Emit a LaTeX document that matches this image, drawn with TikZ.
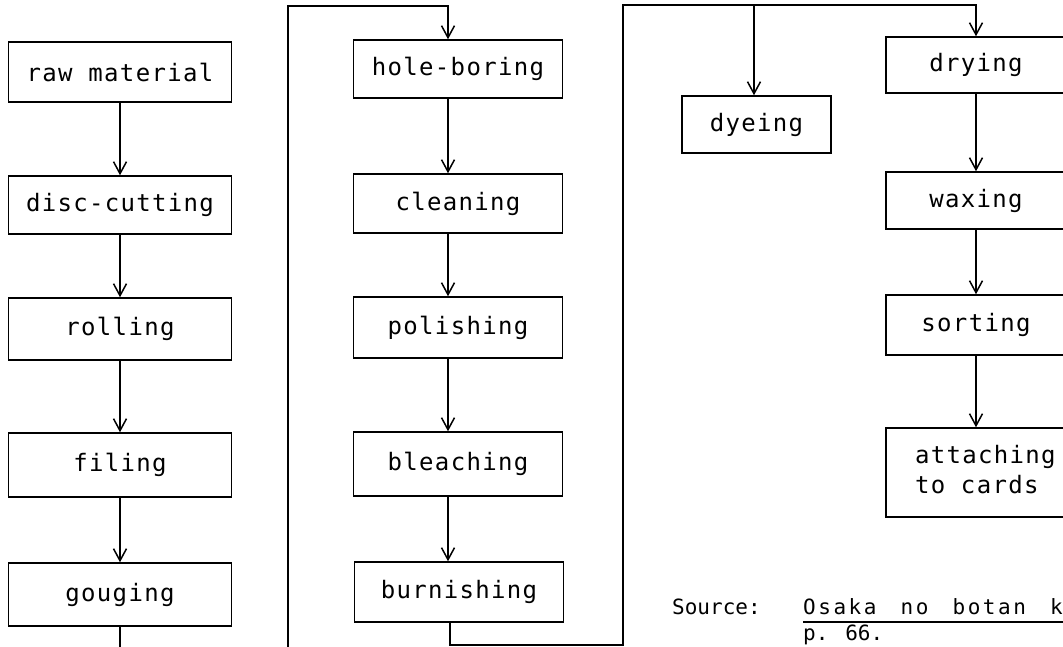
\documentclass[tikz,border=0pt]{standalone}
\usepackage{fontspec}
\newfontfamily\tw[LetterSpace=5.5]{DejaVu Sans Mono}
\newfontfamily\twsrc{DejaVu Sans Mono}
\newfontfamily\twtitle[LetterSpace=12]{DejaVu Sans Mono}
\usetikzlibrary{arrows.meta,calc}
\begin{document}
\begin{tikzpicture}[x=1pt,y=-1pt,
  stage/.style={draw, line width=1.5pt, inner sep=0pt,
    font=\fontsize{24}{30}\selectfont\tw},
  colA/.style={stage, minimum width=223},
  colB/.style={stage, minimum width=209},
  colC/.style={stage, minimum width=180},
  wire/.style={line width=1.5pt},
  flow/.style={wire, -{Straight Barb[length=12pt,width=13pt,line width=1.5pt]}},
  note/.style={font=\fontsize{21}{26}\selectfont\twsrc, inner sep=0pt}]
\useasboundingbox (0,0) rectangle (1063,647);
\clip (0,0) rectangle (1063,647);

% arrow columns
\coordinate (a1) at (120,0);
\coordinate (a2) at (448,0);
\coordinate (a2b) at (450,0);
\coordinate (a3) at (976,0);
\coordinate (a4) at (754,0);

% first column: shaping the blank
\node[colA, minimum height=60] (raw)   at (120,72)    {raw material};
\node[colA, minimum height=58] (disc)  at (120,205)   {disc-cutting};
\node[colA, minimum height=62] (roll)  at (120,329)   {rolling};
\node[colA, minimum height=64] (file)  at (120,465)   {filing};
\node[colA, minimum height=63] (gouge) at (120,594.5) {gouging};

% second column: boring and finishing
\node[colB, minimum height=58] (hole)   at (458,69)    {hole-boring};
\node[colB, minimum height=59] (clean)  at (458,203.5) {cleaning};
\node[colB, minimum height=61] (polish) at (458,327.5) {polishing};
\node[colB, minimum height=64] (bleach) at (458,464)   {bleaching};
\node[colB, minimum height=60] (burn)   at (459,592)   {burnishing};

% third column: colouring and packing
\node[stage, minimum width=149, minimum height=57] (dye) at (756.5,124.5) {dyeing};
\node[colC, minimum height=56] (dry)  at (976,65)    {drying};
\node[colC, minimum height=57] (wax)  at (976,200.5) {waxing};
\node[colC, minimum height=60] (sort) at (976,325)   {sorting};
\node[colC, minimum height=89] (att)  at (976,472.5) {};
\node[stage, draw=none, align=left, anchor=west] (attt) at ($(att.west)+(29,-3)$)
  {attaching\\to cards};

% straight runs
\draw[flow] (raw.south)  -- (disc.north);
\draw[flow] (disc.south) -- (roll.north);
\draw[flow] (roll.south) -- (file.north);
\draw[flow] (file.south) -- (gouge.north);

\draw[flow] (hole.south -| a2)   -- (clean.north -| a2);
\draw[flow] (clean.south -| a2)  -- (polish.north -| a2);
\draw[flow] (polish.south -| a2) -- (bleach.north -| a2);
\draw[flow] (bleach.south -| a2) -- (burn.north -| a2);

\draw[flow] (dry.south)  -- (wax.north);
\draw[flow] (wax.south)  -- (sort.north);
\draw[flow] (sort.south) -- (att.north);

% return lines between columns
\coordinate (l1) at (288,6);
\coordinate (b1) at (288,680);
\draw[flow] (gouge.south) |- (b1) -- (l1) -| (hole.north -| a2);

\coordinate (l2) at (623,5);
\coordinate (b2) at (623,645);
\draw[flow] (burn.south -| a2b) |- (b2) -- (l2) -| (dry.north);
\draw[flow] (l2 -| a4) -- (dye.north -| a4);

% source
\node[note, anchor=base west] (srclab) at (672,614) {Source:};
\node[note, anchor=base west, font=\fontsize{21}{26}\selectfont\twtitle] (srcref) at (803,614)
  {Osaka\hspace{9pt} no\hspace{9pt} botan\hspace{9pt} k};
\node[note, anchor=base west] (srcpg)  at (803,640) {p. 66.};
\draw[line width=1.2pt] ($(srcref.base west)+(0,8)$) -- ($(srcref.base east)+(0,8)$);
\end{tikzpicture}
\end{document}
